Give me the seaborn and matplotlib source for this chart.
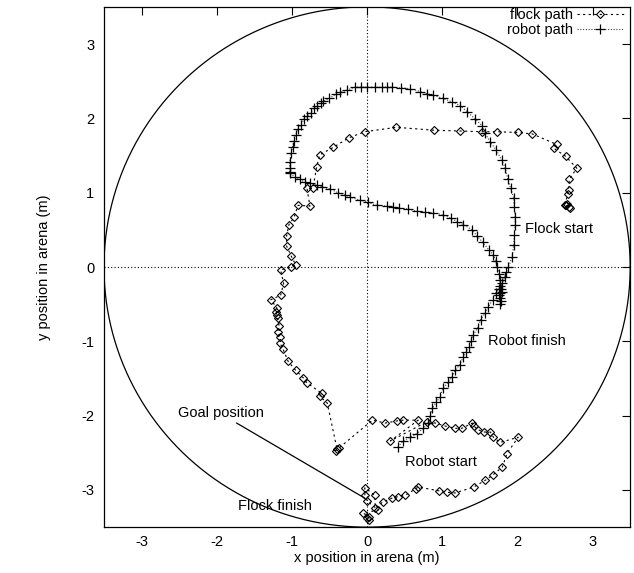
import numpy as np
import pandas as pd
import matplotlib
matplotlib.use("Agg")
import matplotlib.pyplot as plt
import seaborn as sns

# ---- data ----
flock_x = [2.65, 2.70, 2.66, 2.68, 2.63, 2.67, 2.68, 2.69, 2.79, 2.64, 2.48, 2.52, 2.20, 2.01, 1.73, 1.53,
           1.24, 0.89, 0.39, -0.03, -0.24, -0.45, -0.63, -0.67, -0.72, -0.80, -0.76, -0.92, -0.97, -1.04,
           -1.07, -1.07, -1.01, -0.95, -1.01, -1.15, -1.11, -1.15, -1.28, -1.20, -1.21, -1.20, -1.19, -1.17,
           -1.19, -1.16, -1.16, -1.12, -1.05, -0.95, -0.85, -0.80, -0.60, -0.63, -0.53, -0.40, -0.42, -0.38,
           0.07, 0.24, 0.40, 0.48, 0.68, 0.31, 0.80, 0.91, 1.04, 1.17, 1.26, 1.40, 1.42, 1.48, 1.55, 1.64,
           1.68, 1.77, 2.01, 1.86, 1.80, 1.67, 1.57, 1.42, 1.17, 1.06, 0.95, 0.68, 0.65, 0.51, 0.41, 0.33,
           0.21, 0.11, 0.10, -0.03, -0.03, 0.00, 0.15, -0.05, 0.02, 0.03, 0.00]
flock_y = [0.83, 0.80, 0.85, 0.81, 0.84, 0.98, 1.04, 1.18, 1.33, 1.49, 1.60, 1.65, 1.79, 1.81, 1.82, 1.82,
           1.83, 1.84, 1.88, 1.82, 1.74, 1.61, 1.51, 1.35, 1.06, 1.06, 0.82, 0.83, 0.67, 0.57,
           0.42, 0.28, 0.15, 0.03, 0.00, -0.04, -0.22, -0.38, -0.44, -0.55, -0.60, -0.64, -0.69, -0.79,
           -0.87, -0.94, -1.02, -1.10, -1.27, -1.39, -1.49, -1.56, -1.70, -1.74, -1.83, -2.45, -2.47, -2.44,
           -2.06, -2.10, -2.07, -2.06, -2.06, -2.34, -2.08, -2.10, -2.14, -2.17, -2.17, -2.10, -2.14, -2.19,
           -2.22, -2.22, -2.29, -2.36, -2.29, -2.51, -2.69, -2.80, -2.87, -2.96, -3.04, -3.03, -3.01, -2.96,
           -2.98, -3.07, -3.09, -3.11, -3.16, -3.24, -3.07, -2.97, -3.07, -3.15, -3.27, -3.31, -3.36, -3.40, -3.38]

robot_x = [0.41, 0.48, 0.57, 0.66, 0.75, 0.81, 0.84, 0.87, 0.92, 0.97, 1.01, 1.08, 1.13, 1.17, 1.23, 1.28,
           1.32, 1.35, 1.38, 1.41, 1.47, 1.51, 1.57, 1.61, 1.67, 1.71, 1.75, 1.80, 1.83, 1.85, 1.88, 1.93,
           1.95, 1.96, 1.97, 1.97, 1.96, 1.95, 1.91, 1.87, 1.84, 1.79, 1.72, 1.64, 1.57, 1.53, 1.44, 1.33,
           1.24, 1.13, 1.01, 0.88, 0.80, 0.71, 0.57, 0.45, 0.33, 0.26, 0.20, 0.11, 0.00, -0.08, -0.16, -0.27,
           -0.36, -0.41, -0.50, -0.58, -0.61, -0.67, -0.71, -0.75, -0.80, -0.84, -0.88, -0.92, -0.95, -0.97,
           -0.99, -1.01, -1.03, -1.03, -1.03, -1.02, -0.96, -0.89, -0.83, -0.76, -0.67, -0.60, -0.49, -0.39,
           -0.29, -0.23, -0.09, 0.01, 0.13, 0.27, 0.35, 0.43, 0.55, 0.66, 0.77, 0.88, 1.01, 1.11, 1.20, 1.28,
           1.40, 1.46, 1.54, 1.62, 1.68, 1.71, 1.73, 1.76, 1.77, 1.77, 1.78, 1.77, 1.76, 1.79, 1.77, 1.78, 1.77]
robot_y = [-2.42, -2.34, -2.29, -2.24, -2.17, -2.10, -2.00, -1.90, -1.82, -1.75, -1.63, -1.55, -1.48, -1.39,
           -1.32, -1.21, -1.14, -1.08, -1.00, -0.92, -0.82, -0.71, -0.62, -0.54, -0.44, -0.35, -0.30, -0.22,
           -0.13, -0.07, 0.00, 0.14, 0.30, 0.43, 0.56, 0.67, 0.81, 0.93, 1.06, 1.19, 1.33, 1.44, 1.57, 1.68,
           1.80, 1.90, 1.99, 2.09, 2.17, 2.22, 2.27, 2.31, 2.33, 2.36, 2.40, 2.41, 2.42, 2.42, 2.42, 2.42,
           2.42, 2.42, 2.42, 2.38, 2.35, 2.33, 2.27, 2.23, 2.21, 2.17, 2.14, 2.07, 2.03, 1.99, 1.91, 1.86,
           1.78, 1.70, 1.62, 1.53, 1.41, 1.33, 1.28, 1.26, 1.21, 1.18, 1.14, 1.13, 1.10, 1.08, 1.05, 1.00,
           0.97, 0.94, 0.90, 0.87, 0.83, 0.82, 0.81, 0.79, 0.78, 0.75, 0.74, 0.73, 0.70, 0.66, 0.61, 0.57,
           0.50, 0.42, 0.33, 0.23, 0.16, 0.08, 0.00, -0.10, -0.17, -0.25, -0.30, -0.35, -0.38, -0.33, -0.42,
           -0.46, -0.50]

arena_radius = 3.5
ticks = [-3, -2, -1, 0, 1, 2, 3]

# ---- plot ----
sns.set_theme(style="white")
plt.rcParams['font.family'] = ['Liberation Sans', 'DejaVu Sans']
plt.rcParams['text.color'] = 'black'
plt.rcParams['axes.labelcolor'] = 'black'

fs = 10.5

fig = plt.figure(figsize=(6.34, 5.73), dpi=100)
ax = fig.add_axes([0.164, 0.080, 0.830, 0.908])

flock = pd.DataFrame({"x": flock_x, "y": flock_y})
robot = pd.DataFrame({"x": robot_x, "y": robot_y})

# circle of the arena
theta = np.linspace(0, 2 * np.pi, 400)
ax.plot(arena_radius * np.cos(theta), arena_radius * np.sin(theta), color="black", lw=0.9, zorder=1)
ax.axhline(0, color="black", lw=0.8, ls=(0, (1, 2)), zorder=1)
ax.axvline(0, color="black", lw=0.8, ls=(0, (1, 2)), zorder=1)

sns.lineplot(data=flock, x="x", y="y", sort=False, estimator=None, ax=ax,
             color="black", lw=0.8, linestyle=(0, (2, 3)), marker="D", markersize=4.2,
             markerfacecolor="none", markeredgecolor="black", markeredgewidth=0.8,
             label="flock path", zorder=3)
sns.lineplot(data=robot, x="x", y="y", sort=False, estimator=None, ax=ax,
             color="#444444", lw=0.8, linestyle=(0, (1, 1.5)), marker="+", markersize=6.5,
             markeredgecolor="black", markeredgewidth=0.9,
             label="robot path", zorder=3)

ax.set_xlim(-3.5, 3.5)
ax.set_ylim(-3.5, 3.5)
ax.set_xticks(ticks)
ax.set_yticks(ticks)
ax.set_xticklabels([str(t) for t in ticks])
ax.set_yticklabels([str(t) for t in ticks])
ax.tick_params(direction="in", length=6, width=0.8, top=True, right=True,
               labelsize=fs, colors="black", pad=7)
ax.tick_params(axis="x", pad=6)
for s in ax.spines.values():
    s.set_color("black")
    s.set_linewidth(0.9)
ax.set_xlabel("x position in arena (m)", fontsize=fs, labelpad=1)
ax.set_ylabel("y position in arena (m)", fontsize=fs, labelpad=22)

ax.text(2.1, 0.51, "Flock start", fontsize=fs, va="center", ha="left")
ax.text(1.61, -1.0, "Robot finish", fontsize=fs, va="center", ha="left")
ax.text(0.51, -2.62, "Robot start", fontsize=fs, va="center", ha="left")
ax.text(-1.72, -3.22, "Flock finish", fontsize=fs, va="center", ha="left")
ax.annotate("Goal position", xy=(-0.03, -3.11), xytext=(-2.52, -1.96), fontsize=fs,
            va="center", ha="left",
            arrowprops=dict(arrowstyle="-", color="black", lw=0.9,
                            shrinkA=0, shrinkB=0, relpos=(0.62, 0.0)))

leg = ax.legend(loc="upper right", bbox_to_anchor=(0.993, 1.004), frameon=False,
                markerfirst=False, fontsize=fs, handlelength=3.2, borderaxespad=0.0,
                borderpad=0.2, labelspacing=0.1, handletextpad=0.3)

fig.savefig("out.png", dpi=100)
